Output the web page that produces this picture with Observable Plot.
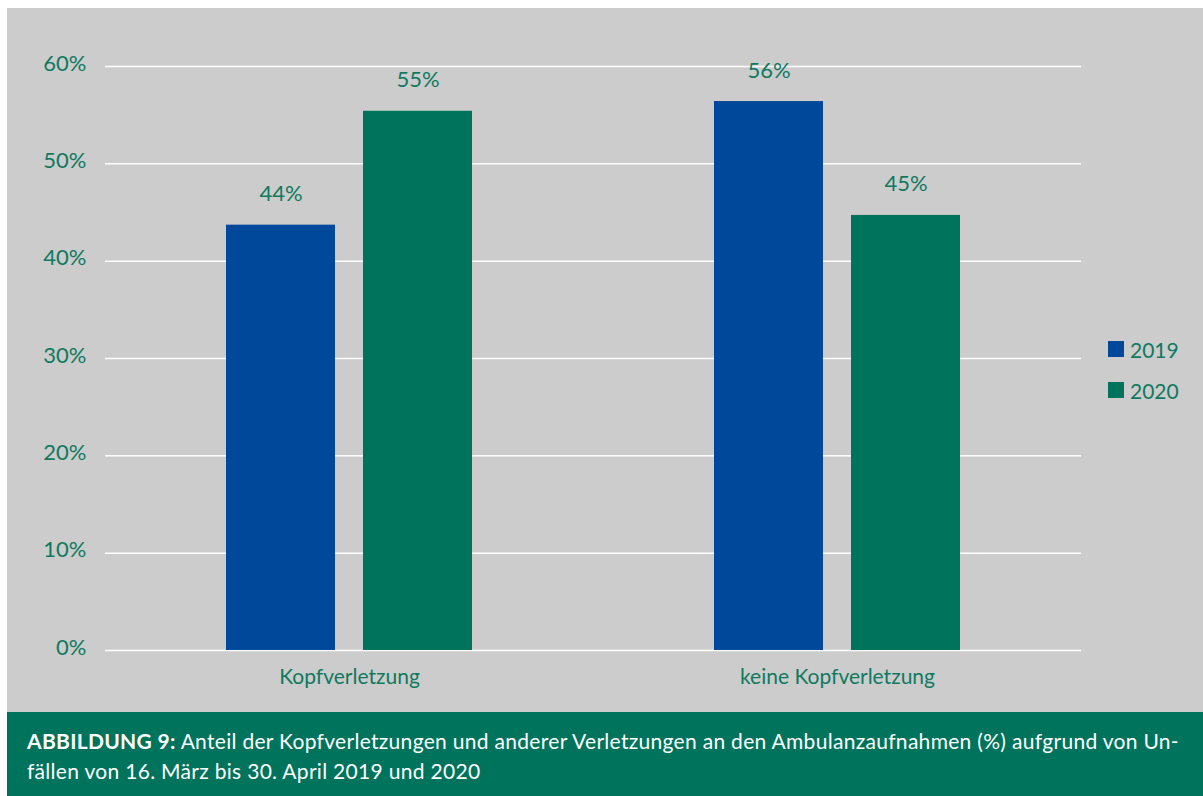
<!DOCTYPE html>
<html>
<head>
<meta charset="utf-8">
<script src="https://cdn.jsdelivr.net/npm/d3@7"></script>
<script src="https://cdn.jsdelivr.net/npm/@observablehq/plot@0.6"></script>
<style>
  html, body { margin: 0; padding: 0; background: #ffffff; }
  body { font-family: Lato, "Noto Sans", sans-serif; }
  #wrap { position: relative; width: 1203px; height: 796px; background: #ffffff; overflow: hidden; }
  #panel { position: absolute; left: 7px; top: 8px; width: 1196px; height: 704px; background: #cccccc; }
  #legend { position: absolute; left: 1101px; top: 333px; font-size: 21px; color: #0f7a60; }
  .item { display: flex; align-items: center; height: 16px; margin-bottom: 25px; }
  .sw { width: 16px; height: 16px; margin-right: 6px; }
  #caption { position: absolute; left: 7px; top: 712px; width: 1196px; height: 84px; background: #00735c; color: #ffffff;
    box-sizing: border-box; padding: 14px 0 0 20px; font-size: 21px; letter-spacing: 0.3px; line-height: 30px; white-space: nowrap; }
  #caption b { font-weight: 700; }
</style>
</head>
<body>
<div id="wrap">
  <div id="panel"><div id="chart"></div><div id="legend"></div></div>
  <div id="caption"><b>ABBILDUNG 9:</b> Anteil der Kopfverletzungen und anderer Verletzungen an den Ambulanzaufnahmen (%) aufgrund von Un-<br>fällen von 16. März bis 30. April 2019 und 2020</div>
</div>
<script>
const categories = ["Kopfverletzung", "keine Kopfverletzung"];
const years = ["2019", "2020"];
const values2019 = [43.7, 56.4];
const values2020 = [55.4, 44.7];
const yTicks = [0, 10, 20, 30, 40, 50, 60];
const colors = ["#004899", "#00735c"];
const textColor = "#0f7a60";

const data = [];
categories.forEach((c, i) => {
  data.push({category: c, year: years[0], value: values2019[i]});
  data.push({category: c, year: years[1], value: values2020[i]});
});

const chart = Plot.plot({
  width: 1196,
  height: 704,
  marginTop: 58,
  marginBottom: 62,
  marginLeft: 98,
  marginRight: 122,
  style: { background: "transparent", color: textColor, fontFamily: "Lato, 'Noto Sans', sans-serif" },
  fx: { domain: categories, padding: 0, label: null },
  x: { domain: years, paddingInner: 0.203, paddingOuter: 0.87, axis: null },
  y: { domain: [0, 60], label: null },
  color: { domain: years, range: colors },
  marks: [
    Plot.gridY(yTicks, { stroke: "#ffffff", strokeOpacity: 1, strokeWidth: 1.5 }),
    Plot.axisY(yTicks, { tickSize: 0, tickPadding: 19, fontSize: 22, dy: -3, tickFormat: d => d + "%", label: null }),
    Plot.axisFx({ anchor: "bottom", tickSize: 0, tickPadding: 19, fontSize: 21, label: null }),
    Plot.barY(data, { fx: "category", x: "year", y: "value", fill: "year" }),
    Plot.text(data, { fx: "category", x: "year", y: "value", text: d => Math.round(d.value) + "%", dy: -31, fontSize: 22, fill: textColor })
  ]
});
document.getElementById("chart").appendChild(chart);

const legend = document.getElementById("legend");
years.forEach((y, i) => {
  const item = document.createElement("div");
  item.className = "item";
  item.innerHTML = `<div class="sw" style="background:${colors[i]}"></div><span>${y}</span>`;
  legend.appendChild(item);
});
</script>
</body>
</html>
